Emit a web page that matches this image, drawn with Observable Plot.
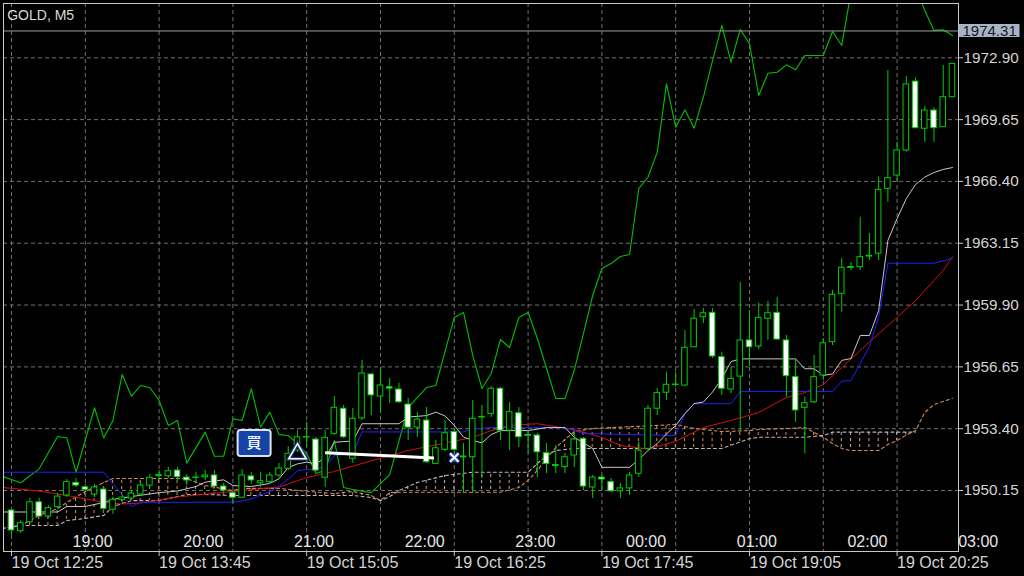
<!DOCTYPE html>
<html>
<head>
<meta charset="utf-8">
<script src="https://cdn.jsdelivr.net/npm/d3@7"></script>
<script src="https://cdn.jsdelivr.net/npm/@observablehq/plot@0.6"></script>
<style>
html,body{margin:0;padding:0;background:#000;overflow:hidden;}
#chart{width:1024px;height:576px;}
</style>
</head>
<body>
<div id="chart"></div>
<script>
// ---------- data ----------
const symbolTitle = "GOLD, M5";
const bidPrice = 1974.31;

// OHLC, one entry per M5 bar (bar index = position)
const opens  = [1949.10,1948.01,1948.48,1949.53,1948.78,1949.27,1949.89,1950.55,1950.32,1949.94,1950.20,1949.14,1949.66,1949.73,1949.94,1950.41,1950.91,1950.90,1951.20,1950.83,1950.81,1950.85,1950.94,1950.36,1950.01,1949.77,1950.89,1950.53,1950.59,1950.94,1951.29,1952.25,1952.94,1952.83,1950.82,1953.13,1954.45,1951.82,1953.94,1956.25,1955.09,1955.58,1955.46,1954.67,1953.46,1953.83,1951.55,1952.29,1953.22,1951.89,1951.90,1953.99,1954.18,1955.50,1953.30,1954.21,1953.02,1953.04,1952.11,1951.44,1951.38,1951.99,1952.87,1950.31,1950.83,1950.59,1950.11,1950.26,1951.03,1952.34,1954.45,1955.29,1955.70,1955.67,1957.68,1959.26,1959.49,1957.16,1955.46,1956.14,1958.04,1957.72,1959.18,1959.49,1958.04,1956.11,1954.50,1954.79,1956.20,1957.95,1960.49,1961.85,1961.89,1962.45,1962.60,1966.01,1966.71,1968.03,1971.65,1969.17,1970.13,1969.25,1970.83];
const highs  = [1949.20,1948.57,1949.73,1949.73,1949.36,1949.99,1950.73,1950.78,1950.47,1950.47,1950.32,1949.80,1949.89,1950.15,1950.57,1950.99,1951.20,1951.36,1951.36,1950.99,1951.11,1951.20,1951.20,1950.52,1950.15,1951.25,1951.10,1951.11,1951.10,1951.57,1952.46,1953.30,1953.74,1952.95,1953.30,1955.09,1954.62,1954.46,1956.99,1956.30,1956.56,1956.04,1955.78,1954.99,1954.25,1954.51,1952.78,1953.83,1953.41,1952.62,1954.88,1954.62,1955.62,1955.58,1954.78,1954.51,1953.30,1953.15,1952.62,1952.52,1952.10,1953.20,1952.94,1950.94,1950.94,1950.78,1950.52,1951.10,1952.69,1954.62,1955.51,1956.37,1956.37,1958.56,1959.67,1959.72,1959.72,1957.42,1956.62,1961.10,1959.61,1960.00,1960.10,1960.31,1958.30,1956.99,1955.06,1957.25,1958.14,1960.67,1962.35,1962.14,1964.52,1963.66,1966.62,1972.23,1968.46,1971.92,1971.85,1970.34,1970.27,1972.50,1972.60];
const lows   = [1947.78,1947.89,1948.42,1948.73,1948.68,1949.20,1949.78,1950.31,1950.04,1949.78,1949.10,1948.89,1949.47,1949.62,1949.83,1950.31,1950.68,1950.78,1950.68,1950.41,1950.50,1950.68,1950.26,1950.04,1949.47,1949.73,1950.47,1950.32,1950.47,1950.83,1951.20,1952.16,1952.43,1951.11,1950.32,1953.04,1952.88,1951.57,1953.83,1954.09,1954.20,1954.72,1954.72,1952.78,1952.94,1951.57,1951.52,1952.20,1951.83,1949.99,1949.99,1950.78,1953.99,1952.78,1952.25,1952.41,1952.10,1950.83,1951.04,1951.04,1951.04,1951.36,1950.15,1949.73,1950.15,1950.04,1949.73,1949.89,1950.85,1952.25,1954.09,1954.88,1955.58,1955.62,1957.67,1958.93,1957.09,1955.15,1955.25,1953.30,1956.67,1957.55,1958.04,1958.04,1955.06,1953.74,1952.08,1954.71,1955.93,1957.77,1959.52,1961.72,1961.72,1962.24,1962.24,1965.31,1966.36,1967.94,1969.17,1968.46,1968.46,1969.24,1970.82];
const closes = [1948.05,1948.43,1949.53,1948.78,1949.22,1949.83,1950.59,1950.41,1950.19,1950.31,1949.19,1949.66,1949.78,1949.99,1950.41,1950.82,1950.96,1951.16,1950.85,1950.68,1950.83,1950.94,1950.36,1950.15,1949.77,1950.94,1950.68,1950.64,1950.94,1951.31,1952.08,1952.95,1952.96,1951.20,1952.92,1954.50,1952.95,1953.92,1956.30,1955.15,1955.67,1955.51,1954.79,1953.46,1953.88,1951.64,1952.37,1953.16,1952.29,1951.94,1953.92,1954.02,1955.50,1953.30,1954.27,1952.95,1953.07,1952.16,1951.55,1951.49,1951.90,1952.83,1950.36,1950.83,1950.73,1950.11,1950.26,1950.94,1952.25,1954.45,1955.27,1955.71,1955.72,1957.65,1959.18,1959.47,1957.20,1955.50,1956.02,1958.04,1957.68,1959.23,1959.47,1958.09,1956.16,1954.36,1954.74,1956.11,1957.89,1960.44,1961.86,1961.90,1962.42,1962.49,1965.96,1966.57,1968.03,1971.50,1969.20,1970.13,1969.20,1970.83,1972.58];

// green indicator line (vertices by bar index)
const greenIdx = [-1,1,3,5,6,7,9,10,11,12,13,14,15,16,17,18,19,21,22,23,24,25,26,27,28,29,30,31,32,33,34,35,36,37,39,41,43,45,46,48,49,50,51,52,53,54,55,56,57,59,60,61,62,63,64,65,66,67,68,69,70,71,72,73,74,75,76,77,78,79,80,81,82,83,84,85,86,87,88,89,90,91,94,97,98,99,100,101,102];
const greenVal = [1950.89,1950.56,1951.29,1952.99,1952.92,1951.11,1954.50,1952.92,1953.83,1956.25,1955.11,1955.67,1955.55,1954.88,1953.57,1953.83,1951.59,1953.22,1951.95,1951.95,1953.92,1953.83,1955.50,1953.48,1954.27,1953.09,1953.04,1952.61,1952.08,1951.04,1951.20,1952.78,1950.31,1950.20,1950.04,1950.99,1954.51,1955.57,1955.67,1959.25,1959.51,1957.25,1955.51,1956.30,1958.09,1957.67,1959.25,1959.51,1958.14,1954.99,1954.99,1956.46,1958.40,1960.40,1961.82,1962.08,1962.45,1962.56,1966.03,1966.62,1967.94,1971.53,1969.25,1970.17,1969.20,1970.83,1972.76,1974.60,1972.67,1974.39,1973.64,1970.92,1972.09,1972.14,1972.53,1972.27,1973.02,1973.02,1973.02,1974.28,1973.55,1976.33,1977.50,1977.50,1976.65,1975.39,1974.34,1974.37,1974.07];

// Kijun-sen (blue)
const kijunIdx = [-1,10,13,14,24,25,26,27,28,29,30,31,33,34,35,37,38,49,50,52,60,62,72,73,74,78,79,89,90,91,93,94,95,100,102];
const kijunVal = [1951.11,1951.11,1949.31,1949.53,1949.53,1949.60,1949.70,1949.91,1950.10,1950.36,1950.75,1951.20,1951.29,1951.41,1951.99,1952.08,1953.23,1953.23,1953.38,1953.46,1953.44,1953.15,1953.04,1954.18,1954.71,1954.71,1955.36,1955.36,1955.90,1955.93,1957.72,1959.26,1962.10,1962.10,1962.35];

// Tenkan-sen (white)
const tenkanIdx = [-1,5,6,8,10,11,13,16,18,20,21,23,24,26,28,29,30,31,32,33,34,35,37,38,42,43,45,46,47,48,49,50,51,52,53,56,58,60,61,63,64,67,68,69,70,71,72,73,74,75,76,77,78,79,85,86,87,88,89,90,91,92,93,94,95,96,97,98,99,100,101,102];
const tenkanVal = [1949.02,1949.02,1949.31,1949.31,1949.52,1949.68,1949.83,1950.04,1950.12,1950.36,1950.59,1950.71,1950.41,1950.36,1950.52,1950.77,1951.36,1951.55,1951.64,1951.55,1951.88,1952.69,1952.75,1953.66,1953.66,1954.01,1954.09,1954.27,1954.07,1953.57,1952.96,1952.78,1952.65,1953.09,1953.30,1953.30,1953.46,1953.46,1952.95,1952.36,1951.37,1951.37,1951.78,1952.25,1952.62,1953.12,1953.57,1954.20,1954.72,1954.80,1955.33,1956.04,1956.93,1957.07,1957.07,1956.55,1956.55,1956.20,1956.28,1956.99,1957.09,1958.30,1958.30,1959.61,1963.29,1964.45,1965.50,1966.24,1966.63,1966.87,1967.03,1967.13];

// moving average (red)
const maIdx = [-1,3,6,10,12,14,18,25,29,32,35,38,43,47,50,52,54,57,61,64,66,69,72,75,78,81,84,86,88,90,93,96,98,100,101,102];
const maVal = [1950.31,1950.12,1949.89,1949.52,1949.44,1949.49,1949.81,1950.15,1950.33,1950.83,1951.15,1951.57,1952.25,1952.65,1952.94,1953.30,1953.57,1953.66,1953.36,1952.94,1952.52,1952.33,1952.73,1953.46,1953.83,1954.25,1955.04,1955.30,1955.72,1956.62,1957.96,1959.25,1960.14,1961.19,1961.72,1962.45];

// Ichimoku cloud: Senkou span A and B
const cloudIdx = [-1,1,3,5,6,8,10,11,13,16,19,21,24,25,29,31,35,37,39,40,41,42,44,47,50,53,55,56,57,58,59,61,63,72,74,77,80,81,84,86,88,89,90,91,94,95,96,97,98,99,100,101,102];
const spanA = [1948.15,1948.31,1948.84,1949.20,1949.52,1950.10,1950.57,1950.78,1950.78,1950.78,1950.78,1950.41,1950.15,1950.26,1950.26,1950.15,1949.99,1950.10,1949.89,1949.62,1950.04,1950.06,1950.06,1950.06,1950.06,1950.06,1950.31,1950.68,1951.20,1951.83,1952.41,1953.25,1953.41,1953.62,1953.41,1953.25,1953.30,1953.36,1953.41,1953.46,1952.95,1952.62,1952.36,1952.25,1952.25,1952.57,1952.78,1953.07,1953.30,1954.25,1954.67,1954.83,1955.00];
const spanB = [1948.15,1948.31,1948.31,1948.31,1948.57,1948.68,1948.84,1949.31,1949.62,1949.62,1949.94,1949.94,1949.89,1949.89,1949.89,1949.89,1949.89,1949.89,1949.78,1949.62,1949.83,1950.15,1950.57,1950.94,1951.11,1951.11,1951.11,1951.11,1951.57,1951.99,1952.25,1952.36,1952.36,1952.36,1952.36,1952.36,1952.87,1952.95,1952.95,1952.95,1953.04,1953.22,1953.22,1953.22,1953.22,1953.22,1953.22,1953.22,1953.22,null,null,null,null];

// axes
const priceTicks = [1950.15,1953.40,1956.65,1959.90,1963.15,1966.40,1969.65,1972.90];
const gridBars = [0,8,16,24,32,40,48,56,64,72,80,88,96];
const dateTickBars = [0,16,32,48,64,80,96];
const dateTickLabels = ["19 Oct 12:25","19 Oct 13:45","19 Oct 15:05","19 Oct 16:25","19 Oct 17:45","19 Oct 19:05","19 Oct 20:25"];
const hourBars = [7,19,31,43,55,67,79,91,103];
const hourLabels = ["19:00","20:00","21:00","22:00","23:00","00:00","01:00","02:00","03:00"];

// trade annotations
const buyLabel = [{i: 26.3, price: 1952.65, text: "買"}];
const entryMark = [{i: 31, price: 1952.08}];
const tradeLine = [{i1: 34, p1: 1952.13, i2: 45.8, p2: 1951.86}];
const exitMark = [{i: 48, price: 1951.88}];

// ---------- build ----------
const candles = opens.map((o, i) => ({i, o, h: highs[i], l: lows[i], c: closes[i]}));
const bulls = candles.filter(d => d.c >= d.o);
const bears = candles.filter(d => d.c < d.o);
const toPts = (idx, val) => idx.map((i, k) => ({i, v: val[k]}));
const cloud = cloudIdx.map((i, k) => ({i, a: spanA[k], b: spanB[k]}));
const cloudBoth = cloud.filter(d => d.b != null);

const GREEN = "#00cc00";
const colA = "#d08a58", colB = "#c6b0bc";

const boxSymbol = {
  draw(ctx) {
    const w = 16.5, h = 13, r = 2.5;
    ctx.moveTo(-w + r, -h);
    ctx.arcTo(w, -h, w, h, r);
    ctx.arcTo(w, h, -w, h, r);
    ctx.arcTo(-w, h, -w, -h, r);
    ctx.arcTo(-w, -h, w, -h, r);
    ctx.closePath();
  }
};

const chart = Plot.plot({
  width: 1024,
  height: 576,
  marginLeft: 3,
  marginRight: 66,
  marginTop: 3,
  marginBottom: 25,
  x: {domain: [-0.867, 102.656], axis: null},
  y: {domain: [1946.943, 1975.755], axis: null},
  style: {background: "#000", color: "#d0d0d0", fontFamily: "'Liberation Sans', Arial, sans-serif", fontSize: "15px"},
  marks: [
    Plot.gridX(gridBars, {stroke: "#707070", strokeOpacity: 1, strokeDasharray: "4,3"}),
    Plot.gridY(priceTicks, {stroke: "#707070", strokeOpacity: 1, strokeDasharray: "4,3"}),
    // cloud hatching
    Plot.areaY(cloudBoth, {x: "i", y1: "b", y2: d => Math.max(d.a, d.b), fill: "url(#hatchA)", clip: true}),
    Plot.areaY(cloudBoth, {x: "i", y1: "a", y2: d => Math.max(d.a, d.b), fill: "url(#hatchB)", clip: true}),
    Plot.line(cloud, {x: "i", y: "a", stroke: colA, strokeDasharray: "3,3", strokeWidth: 1.1, clip: true}),
    Plot.line(cloudBoth, {x: "i", y: "b", stroke: colB, strokeDasharray: "3,3", strokeWidth: 1.1, clip: true}),
    // indicator lines
    Plot.line(toPts(greenIdx, greenVal), {x: "i", y: "v", stroke: "#00c000", strokeWidth: 1.1, clip: true}),
    Plot.line(toPts(maIdx, maVal), {x: "i", y: "v", stroke: "#d41010", strokeWidth: 1, clip: true}),
    Plot.line(toPts(kijunIdx, kijunVal), {x: "i", y: "v", stroke: "#2020ff", strokeWidth: 1, clip: true}),
    Plot.line(toPts(tenkanIdx, tenkanVal), {x: "i", y: "v", stroke: "#c8c8c8", strokeWidth: 1, clip: true}),
    // candles
    Plot.ruleX(candles, {x: "i", y1: "l", y2: "h", stroke: GREEN, strokeWidth: 1}),
    Plot.rect(bulls, {x1: d => d.i - 0.3, x2: d => d.i + 0.3, y1: "o", y2: "c", fill: "#000", stroke: GREEN, strokeWidth: 1}),
    Plot.rect(bears, {x1: d => d.i - 0.3, x2: d => d.i + 0.3, y1: "o", y2: "c", fill: "#fff", stroke: GREEN, strokeWidth: 1}),
    // trade annotations
    Plot.link(tradeLine, {x1: "i1", y1: "p1", x2: "i2", y2: "p2", stroke: "#fff", strokeWidth: 3}),
    Plot.dot(entryMark, {x: "i", y: "price", symbol: "triangle", r: 6.5, fill: "none", stroke: "#1c2f70", strokeWidth: 4}),
    Plot.dot(entryMark, {x: "i", y: "price", symbol: "triangle", r: 6.5, fill: "none", stroke: "#ffffff", strokeWidth: 1.5}),
    Plot.dot(exitMark, {x: "i", y: "price", symbol: "times", r: 4, stroke: "#2a46c8", strokeWidth: 4.5}),
    Plot.dot(exitMark, {x: "i", y: "price", symbol: "times", r: 4, stroke: "#ffffff", strokeWidth: 2}),
    Plot.dot(buyLabel, {x: "i", y: "price", symbol: boxSymbol, r: 10, fill: "#1544a8", stroke: "#dde4f0", strokeWidth: 2}),
    Plot.text(buyLabel, {x: "i", y: "price", text: "text", fill: "#ffffff", fontSize: 15, fontWeight: 500, fontFamily: "'Noto Sans CJK JP', sans-serif"}),
    // bid line
    Plot.ruleY([bidPrice], {stroke: "#9c9c9c", strokeWidth: 1}),
    Plot.frame({stroke: "#c8c8c8"}),
    // axes
    Plot.axisY({anchor: "right", ticks: priceTicks, tickFormat: d => d.toFixed(2), tickSize: 4, tickPadding: 1, stroke: "#c8c8c8", fill: "#d4d4d4", fontSize: 15.3}),
    Plot.axisX({anchor: "bottom", ticks: dateTickBars, tickFormat: d => dateTickLabels[dateTickBars.indexOf(d)], textAnchor: "start", tickSize: 5, tickPadding: 0, stroke: "#c8c8c8", fill: "#d4d4d4", fontSize: 16}),
    Plot.text(hourLabels, {x: (d, k) => hourBars[k], frameAnchor: "bottom", lineAnchor: "middle", dy: -10, dx: -3.5, textAnchor: "start", fill: "#e6e6e6", fontSize: 16}),
    Plot.text([symbolTitle], {frameAnchor: "top-left", dx: 3.7, dy: 7, fill: "#dadada", fontSize: 14})
  ]
});

// hatch patterns aligned to the bar positions of the x scale
const xs = chart.scale("x"), ys = chart.scale("y");
const step = xs.apply(1) - xs.apply(0);
const x0 = xs.apply(0);
const svg = d3.select(chart);
const defs = svg.insert("defs", ":first-child");
[["hatchA", "#cc8c52"], ["hatchB", "#c4a698"]].forEach(([id, c]) => {
  const p = defs.append("pattern").attr("id", id).attr("patternUnits", "userSpaceOnUse")
    .attr("x", x0 - 0.5).attr("y", 0).attr("width", step).attr("height", 6);
  p.append("line").attr("x1", 0.5).attr("x2", 0.5).attr("y1", 0).attr("y2", 3)
    .attr("stroke", c).attr("stroke-width", 1.1);
});

// bid price label box on the right axis
const yb = ys.apply(bidPrice);
const xr = xs.apply(xs.domain[1]);
svg.append("rect").attr("x", xr + 0.5).attr("y", yb - 6.5).attr("width", 61).attr("height", 13).attr("fill", "#a7b3c6");
svg.append("text").attr("x", xr + 4.5).attr("y", yb).attr("dy", "0.36em")
  .attr("text-anchor", "start")
  .attr("fill", "#1a1a1a").attr("font-size", 15).attr("font-family", "'Liberation Sans', Arial, sans-serif")
  .text(bidPrice.toFixed(2));

document.getElementById("chart").appendChild(chart);
</script>
</body>
</html>
